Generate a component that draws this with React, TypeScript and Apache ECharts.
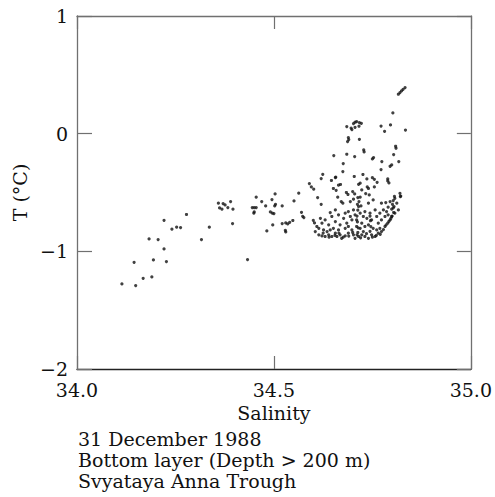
import React, { useEffect, useRef } from "react";
import * as echarts from "echarts";

// Salinity / Temperature observations (S, T °C)
const sparseLeft: number[][] = [
  [34.114, -1.277], [34.149, -1.291], [34.168, -1.229], [34.19, -1.218], [34.145, -1.093],
  [34.194, -1.073], [34.227, -1.087], [34.221, -0.98], [34.183, -0.895], [34.206, -0.9],
  [34.221, -0.736], [34.241, -0.812], [34.253, -0.795], [34.263, -0.798], [34.278, -0.687],
  [34.316, -0.9], [34.336, -0.795], [34.359, -0.591], [34.371, -0.594], [34.376, -0.606],
  [34.39, -0.577], [34.362, -0.631], [34.368, -0.642], [34.383, -0.628], [34.396, -0.642],
  [34.395, -0.764], [34.433, -1.07],
];

const middleGroup: number[][] = [
  [34.455, -0.54], [34.445, -0.628], [34.45, -0.628], [34.455, -0.628], [34.449, -0.676],
  [34.45, -0.665], [34.469, -0.577], [34.479, -0.614], [34.495, -0.56], [34.503, -0.512],
  [34.504, -0.6], [34.502, -0.614], [34.491, -0.665], [34.496, -0.676], [34.5, -0.679],
  [34.521, -0.614], [34.497, -0.776], [34.482, -0.827], [34.521, -0.764], [34.53, -0.759],
  [34.535, -0.767], [34.54, -0.753], [34.529, -0.821], [34.53, -0.835], [34.548, -0.738],
  [34.551, -0.572], [34.563, -0.506], [34.57, -0.668], [34.573, -0.702], [34.576, -0.713],
  [34.59, -0.424], [34.595, -0.453], [34.601, -0.472], [34.611, -0.543], [34.62, -0.6],
  [34.6, -0.736], [34.603, -0.759],
];

const upperGroup: number[][] = [
  [34.816, 0.335], [34.82, 0.349], [34.824, 0.363], [34.828, 0.377], [34.833, 0.392],
  [34.802, 0.176], [34.834, 0.031], [34.772, 0.065], [34.781, 0.02], [34.796, 0.074],
  [34.685, 0.06], [34.696, 0.048], [34.698, 0.035], [34.702, 0.086], [34.706, 0.097],
  [34.71, 0.103], [34.717, 0.094], [34.722, 0.088], [34.706, 0.054], [34.716, 0.063],
  [34.689, -0.033], [34.69, -0.05], [34.687, -0.067], [34.717, -0.048],
  [34.728, -0.138], [34.729, -0.155], [34.652, -0.186], [34.685, -0.175], [34.705, -0.195],
  [34.75, -0.215], [34.753, -0.203], [34.809, -0.107], [34.81, -0.124], [34.804, -0.178],
  [34.817, -0.237], [34.774, -0.237], [34.795, -0.277], [34.799, -0.266], [34.676, -0.254],
  [34.772, -0.305], [34.675, -0.322], [34.624, -0.345], [34.62, -0.382], [34.656, -0.373],
  [34.704, -0.364], [34.726, -0.347], [34.736, -0.385], [34.75, -0.374], [34.755, -0.388],
  [34.789, -0.385], [34.646, -0.398], [34.657, -0.37], [34.664, -0.438], [34.669, -0.432],
  [34.651, -0.466], [34.658, -0.481], [34.684, -0.5], [34.688, -0.517], [34.7, -0.492],
  [34.705, -0.512], [34.715, -0.43], [34.719, -0.421], [34.762, -0.413], [34.723, -0.478],
  [34.737, -0.453], [34.74, -0.466], [34.755, -0.453], [34.789, -0.402], [34.792, -0.419],
  [34.806, -0.532], [34.82, -0.507], [34.822, -0.53], [34.733, -0.509], [34.742, -0.521],
  [34.713, -0.543], [34.719, -0.54], [34.662, -0.54],
];

const denseCluster: number[][] = [
  [34.671, -0.577], [34.675, -0.591], [34.694, -0.577], [34.702, -0.557], [34.716, -0.577],
  [34.721, -0.614], [34.74, -0.591], [34.752, -0.563], [34.773, -0.591], [34.784, -0.586],
  [34.795, -0.577], [34.803, -0.569], [34.807, -0.549], [34.812, -0.591], [34.821, -0.535],
  [34.805, -0.62], [34.799, -0.642], [34.79, -0.625],
  [34.609, -0.789], [34.605, -0.832], [34.614, -0.86], [34.622, -0.869], [34.63, -0.874],
  [34.639, -0.86], [34.647, -0.874], [34.656, -0.846], [34.66, -0.874], [34.668, -0.86],
  [34.672, -0.889], [34.681, -0.869], [34.689, -0.846], [34.698, -0.818], [34.702, -0.86],
  [34.706, -0.889], [34.715, -0.874], [34.723, -0.86], [34.727, -0.832], [34.731, -0.874],
  [34.74, -0.889], [34.748, -0.86], [34.757, -0.874], [34.765, -0.846], [34.773, -0.832],
  [34.782, -0.789], [34.789, -0.761], [34.795, -0.733], [34.799, -0.704], [34.807, -0.676],
  [34.816, -0.648],
  [34.622, -0.761], [34.63, -0.733], [34.639, -0.775], [34.647, -0.704], [34.656, -0.747],
  [34.664, -0.69], [34.668, -0.775], [34.677, -0.719], [34.681, -0.676], [34.685, -0.761],
  [34.689, -0.662], [34.694, -0.704], [34.698, -0.733], [34.702, -0.648], [34.706, -0.69],
  [34.71, -0.733], [34.715, -0.62], [34.719, -0.676], [34.723, -0.761], [34.727, -0.704],
  [34.731, -0.662], [34.736, -0.719], [34.74, -0.775], [34.744, -0.676], [34.748, -0.733],
  [34.752, -0.804], [34.757, -0.648], [34.761, -0.704], [34.765, -0.761], [34.769, -0.676],
  [34.773, -0.733], [34.778, -0.648], [34.782, -0.704], [34.786, -0.662], [34.79, -0.69],
  [34.769, -0.804], [34.761, -0.818], [34.731, -0.789], [34.719, -0.804], [34.71, -0.789],
  [34.664, -0.818], [34.643, -0.818], [34.651, -0.804], [34.681, -0.804], [34.689, -0.789],
  [34.614, -0.804], [34.626, -0.818], [34.635, -0.832], [34.618, -0.719], [34.643, -0.671],
  [34.656, -0.648],
  [34.712, -0.6], [34.713, -0.65], [34.711, -0.7], [34.712, -0.75], [34.714, -0.8],
  [34.713, -0.84], [34.711, -0.86], [34.744, -0.7], [34.745, -0.74], [34.746, -0.79],
  [34.744, -0.83], [34.801, -0.6], [34.803, -0.63], [34.804, -0.67], [34.8, -0.7],
  [34.625, -0.845], [34.64, -0.88], [34.655, -0.865], [34.665, -0.845], [34.676, -0.88],
  [34.69, -0.87], [34.7, -0.84], [34.72, -0.885], [34.735, -0.85], [34.75, -0.88],
  [34.76, -0.865], [34.77, -0.855], [34.778, -0.815], [34.785, -0.775], [34.792, -0.745],
  [34.797, -0.72],
];

const xTicks = { min: 34.0, max: 35.0, interval: 0.5 };
const yTicks = { min: -2, max: 1, interval: 1 };
const captionLines = ["31 December 1988", "Bottom layer (Depth > 200 m)", "Svyataya Anna Trough"];

const FONT = '"DejaVu Serif", serif';
const FS = 19;

export default function App() {
  const ref = useRef<HTMLDivElement>(null);
  useEffect(() => {
    if (!ref.current) return;
    const chart = echarts.init(ref.current, undefined, { renderer: "svg" });
    const allPoints = [...sparseLeft, ...middleGroup, ...upperGroup, ...denseCluster];
    const frameColor = "#707070";
    const fmtY = (v: number) => (v < 0 ? "\u2212" + Math.abs(v) : String(v));
    chart.setOption({
      animation: false,
      backgroundColor: "#ffffff",
      grid: { left: 77, top: 16, right: 22, bottom: 128, containLabel: false },
      xAxis: [
        {
          type: "value",
          position: "bottom",
          min: xTicks.min,
          max: xTicks.max,
          interval: xTicks.interval,
          name: "Salinity",
          nameLocation: "middle",
          nameGap: 34,
          nameTextStyle: { fontFamily: FONT, fontSize: FS, color: "#111" },
          axisLine: { onZero: false, lineStyle: { color: "#222", width: 1.3 } },
          axisTick: { inside: true, length: 13, lineStyle: { color: frameColor, width: 1.2 } },
          axisLabel: {
            fontFamily: FONT,
            fontSize: FS,
            color: "#111",
            margin: 11,
            formatter: (v: number) => v.toFixed(1),
          },
          splitLine: { show: false },
        },
        {
          type: "value",
          position: "top",
          min: xTicks.min,
          max: xTicks.max,
          interval: xTicks.interval,
          axisLine: { show: true, onZero: false, lineStyle: { color: frameColor, width: 1.3 } },
          axisTick: { show: true, inside: true, length: 13, lineStyle: { color: frameColor, width: 1.2 } },
          axisLabel: { show: false },
          splitLine: { show: false },
        },
      ],
      yAxis: [
        {
          type: "value",
          position: "left",
          min: yTicks.min,
          max: yTicks.max,
          interval: yTicks.interval,
          name: "T (\u00B0C)",
          nameLocation: "middle",
          nameGap: 46,
          nameRotate: 90,
          nameTextStyle: { fontFamily: FONT, fontSize: FS, color: "#111" },
          axisLine: { show: true, onZero: false, lineStyle: { color: frameColor, width: 1.3 } },
          axisTick: { show: true, inside: true, length: 15, lineStyle: { color: frameColor, width: 1.2 } },
          axisLabel: { fontFamily: FONT, fontSize: FS, color: "#111", margin: 9, formatter: fmtY },
          splitLine: { show: false },
        },
        {
          type: "value",
          position: "right",
          min: yTicks.min,
          max: yTicks.max,
          interval: yTicks.interval,
          axisLine: { show: true, onZero: false, lineStyle: { color: frameColor, width: 1.3 } },
          axisTick: { show: true, inside: true, length: 14, lineStyle: { color: frameColor, width: 1.2 } },
          axisLabel: { show: false },
          splitLine: { show: false },
        },
      ],
      graphic: [
        {
          type: "text",
          left: 78,
          top: 428,
          style: {
            text: captionLines.join("\n"),
            font: FS + 'px "DejaVu Serif", serif',
            lineHeight: 21,
            fill: "#111",
          },
        },
      ],
      series: [
        {
          type: "scatter",
          xAxisIndex: 0,
          yAxisIndex: 0,
          data: allPoints,
          symbol: "circle",
          symbolSize: 3.2,
          itemStyle: { color: "#111" },
          silent: true,
        },
      ],
    });
    return () => chart.dispose();
  }, []);
  return (
    <div
      ref={ref}
      style={{ position: "fixed", left: 0, top: 0, width: 495, height: 497, background: "#fff" }}
    />
  );
}
